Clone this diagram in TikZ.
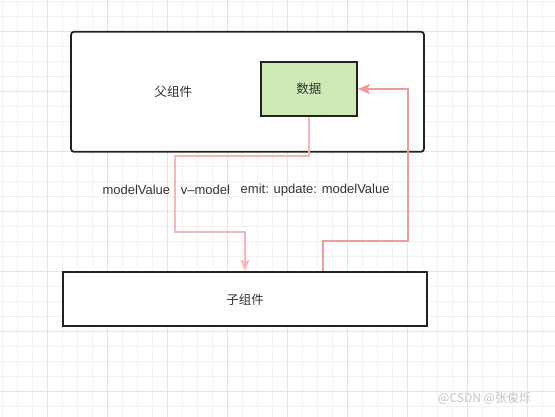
\documentclass[tikz,border=0pt]{standalone}
\usepackage{fontspec}
\setmainfont{Liberation Sans}
\newfontfamily\cjk{Noto Sans CJK SC}
\usetikzlibrary{arrows.meta}
\definecolor{gridminor}{HTML}{F1F1F1}
\definecolor{gridmajor}{HTML}{E4E4E4}
\definecolor{boxline}{HTML}{222222}
\definecolor{txt}{HTML}{333333}
\definecolor{datafill}{HTML}{CDEAB5}
\definecolor{pinklight}{HTML}{F4B8B8}
\definecolor{pinkdark}{HTML}{EF9C9C}
\definecolor{wm}{HTML}{C4C4C4}
\tikzset{
  box/.style={draw=boxline, line width=1.8pt, fill=white, inner sep=0pt},
  lbl/.style={text=txt, inner sep=0pt, font=\fontsize{13}{15}\selectfont},
  cjklbl/.style={text=txt, inner sep=0pt, font=\cjk\fontsize{12.5}{15}\selectfont},
  linkA/.style={draw=pinklight, line width=1.7pt, -{Stealth[length=11pt,width=9pt,inset=2pt]}},
  linkB/.style={draw=pinkdark, line width=2pt, -{Stealth[length=12pt,width=10pt,inset=2.5pt]}},
}
\begin{document}
\begin{tikzpicture}[x=1pt,y=-1pt]
\useasboundingbox (0,0) rectangle (555,417);
\fill[white] (0,0) rectangle (555,417);
% grid
\foreach \i in {0,...,36} {\draw[gridminor, line width=0.8pt] (2.7+15*\i,0) -- (2.7+15*\i,417);}
\foreach \i in {0,...,27} {\draw[gridminor, line width=0.8pt] (0,1.7+15*\i) -- (555,1.7+15*\i);}
\foreach \i in {0,...,8} {\draw[gridmajor, line width=0.9pt] (47.7+60*\i,0) -- (47.7+60*\i,417);}
\foreach \i in {0,...,6} {\draw[gridmajor, line width=0.9pt] (0,31.7+60*\i) -- (555,31.7+60*\i);}
% boxes
\node[box, rounded corners=3pt, minimum width=353pt, minimum height=120pt] (parent) at (247.5,91.8) {};
\node[cjklbl] (parentlbl) at (173.3,91.7) {父组件};
\node[box, fill=datafill, minimum width=96.3pt, minimum height=54.3pt, cjklbl] (data) at (308.8,89) {数据};
\node[box, minimum width=363.4pt, minimum height=54pt] (child) at (245,298.7) {};
\node[cjklbl] (childlbl) at (245,299.5) {子组件};
% labels
\node[lbl, anchor=west] (mv) at (102.3,190) {modelValue};
\node[lbl, anchor=west] (vm) at (180.7,190) {v–model};
\node[lbl, anchor=west] (em) at (240.5,190) {emit: update: modelValue};
% connectors
\draw[linkA] (data.south) -- ++(0,39) -| (175,231.7) -| (child.north);
\draw[linkB] ([xshift=78.3pt]child.north) -- ++(0,-30) -| (408.3,89) -- (data.east);
% watermark
\node[text=wm, inner sep=0pt, font=\cjk\fontsize{12}{14}\selectfont, anchor=west] (wmk) at (438,398) {@CSDN @张俊烁};
\end{tikzpicture}
\end{document}
